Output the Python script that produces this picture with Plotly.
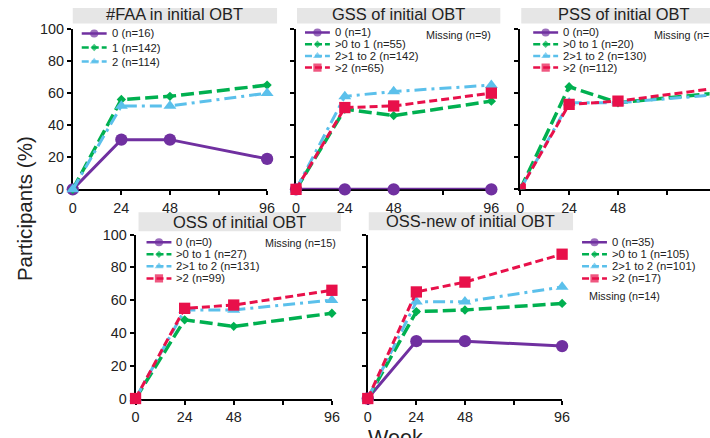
import plotly.graph_objects as go

# ---------------- data ----------------
weeks = [0, 24, 48, 96]
week_ticks = [0, 24, 48, 72, 96]
week_ticktext = ["0", "24", "48", "", "96"]
pct_ticks = [0, 20, 40, 60, 80, 100]

faa_title = "#FAA in initial OBT"
faa_labels = ["0 (n=16)", "1 (n=142)", "2 (n=114)"]
faa_0 = [0, 31, 31, 19]
faa_1 = [0, 56, 58, 65]
faa_2 = [0, 52, 52, 60]

gss_title = "GSS of initial OBT"
gss_labels = ["0 (n=1)", ">0 to 1 (n=55)", "2>1 to 2 (n=142)", ">2 (n=65)"]
gss_missing = "Missing (n=9)"
gss_0 = [0, 0, 0, 0]
gss_1 = [0, 50, 46, 55]
gss_2 = [0, 58, 61, 65]
gss_3 = [0, 51, 52, 60]

pss_title = "PSS of initial OBT"
pss_labels = ["0 (n=0)", ">0 to 1 (n=20)", "2>1 to 2 (n=130)", ">2 (n=112)"]
pss_missing = "Missing (n=10)"
pss_0 = [None, None, None, None]
pss_1 = [0, 64, 54, 60]
pss_2 = [0, 54, 54, 59]
pss_3 = [0, 53, 55, 63]

oss_title = "OSS of initial OBT"
oss_labels = ["0 (n=0)", ">0 to 1 (n=27)", "2>1 to 2 (n=131)", ">2 (n=99)"]
oss_missing = "Missing (n=15)"
oss_0 = [None, None, None, None]
oss_1 = [0, 48, 44, 52]
oss_2 = [0, 54, 54, 60]
oss_3 = [0, 55, 57, 66]

ossn_title = "OSS-new of initial OBT"
ossn_labels = ["0 (n=35)", ">0 to 1 (n=105)", "2>1 to 2 (n=101)", ">2 (n=17)"]
ossn_missing = "Missing (n=14)"
ossn_0 = [0, 35, 35, 32]
ossn_1 = [0, 53, 54, 58]
ossn_2 = [0, 59, 59, 68]
ossn_3 = [0, 65, 71, 88]

y_title = "Participants (%)"
x_title = "Week"

# ---------------- page / picture geometry ----------------
PIC_W, PIC_H = 710, 438                 # size of the photographed picture
CAP_X0, CAP_Y0 = -2.03, -8.95           # page area that ends up in the picture
CAP_W, CAP_H = 719.6, 455.6
W, H = 720, 456                         # figure size (page px)
S = 0.974                               # mean picture/page scale, for font & marker sizes

def page_x(t):
    return CAP_X0 + t * CAP_W / PIC_W

def page_y(t):
    return CAP_Y0 + t * CAP_H / PIC_H

def X(t):
    return page_x(t) / W

def Y(t):
    return 1 - page_y(t) / H

def fs(v):
    return round(v / S, 2)

FONT = "Arial, Liberation Sans, sans-serif"
TXT = "#222222"
STYLES = [
    dict(color="#7030A0", dash="solid", symbol="circle", size=12, lsize=8, width=3),
    dict(color="#00B050", dash="13px,5px", symbol="diamond", size=7, lsize=5.5, width=3.5),
    dict(color="#5BC0EB", dash="12px,5px,3px,5px", symbol="triangle-up", size=11, lsize=7.5, width=3),
    dict(color="#E8104A", dash="8px,4px", symbol="square", size=11, lsize=8, width=3),
]

panels = [
    dict(title=faa_title, labels=faa_labels, series=[faa_0, faa_1, faa_2], missing=None,
         x0=71, x1=266, ytop=29.5, ybot=189.3, xmax=96, ylab=True,
         box=(71, 276, 6, 24), leg_rows=[34, 48, 62], leg_x=80, miss=None),
    dict(title=gss_title, labels=gss_labels, series=[gss_0, gss_1, gss_2, gss_3], missing=gss_missing,
         x0=295, x1=491, ytop=29.5, ybot=189.3, xmax=96, ylab=False,
         box=(296, 500, 6, 24), leg_rows=[33, 44.7, 56.4, 68], leg_x=304, miss=(493, 36, "right")),
    dict(title=pss_title, labels=pss_labels, series=[pss_0, pss_1, pss_2, pss_3], missing=pss_missing,
         x0=520, x1=710, ytop=29.5, ybot=189.3, xmax=93.0, ylab=False,
         box=(521, 726, 6, 24), leg_rows=[33, 44.7, 56.4, 68], leg_x=533, miss=(652, 36, "left")),
    dict(title=oss_title, labels=oss_labels, series=[oss_0, oss_1, oss_2, oss_3], missing=oss_missing,
         x0=134, x1=331, ytop=234.3, ybot=397.7, xmax=96, ylab=True,
         box=(137, 340, 212, 231), leg_rows=[242, 254, 266, 278], leg_x=145, miss=(337, 243, "right")),
    dict(title=ossn_title, labels=ossn_labels, series=[ossn_0, ossn_1, ossn_2, ossn_3], missing=ossn_missing,
         x0=367, x1=562, ytop=234.3, ybot=397.7, xmax=96, ylab=False,
         box=(368, 573, 212, 230), leg_rows=[242, 254, 266, 278], leg_x=582, miss=(587, 296, "left")),
]

fig = go.Figure()
shapes = []
annotations = []
layout_axes = {}

def clamp(v):
    return max(0.0, min(1.0, v))

for i, p in enumerate(panels):
    k = i + 1
    xa = "x" if k == 1 else f"x{k}"
    ya = "y" if k == 1 else f"y{k}"
    styles = STYLES if len(p["series"]) == 4 else STYLES[:3]
    for vals, lab, st in zip(p["series"], p["labels"], styles):
        fig.add_trace(go.Scatter(
            x=weeks, y=vals, name=lab, mode="lines+markers", xaxis=xa, yaxis=ya,
            line=dict(color=st["color"], dash=st["dash"], width=st["width"]),
            marker=dict(symbol=st["symbol"], size=fs(st["size"]), color=st["color"]),
            cliponaxis=p["xmax"] < 96, showlegend=False, connectgaps=False,
        ))
    axis_common = dict(showline=True, linecolor="black", linewidth=2, ticks="outside",
                       ticklen=4, tickwidth=1.5, tickcolor="black", showgrid=False,
                       zeroline=False, layer="below traces",
                       tickfont=dict(family=FONT, size=fs(14), color=TXT))
    layout_axes["xaxis" if k == 1 else f"xaxis{k}"] = dict(
        axis_common, domain=[clamp(X(p["x0"])), clamp(X(p["x1"]))], range=[0, p["xmax"]],
        tickvals=week_ticks, ticktext=week_ticktext, anchor=ya)
    layout_axes["yaxis" if k == 1 else f"yaxis{k}"] = dict(
        axis_common, domain=[clamp(Y(p["ybot"])), clamp(Y(p["ytop"]))], range=[0, 100],
        tickvals=pct_ticks, showticklabels=p["ylab"], anchor=xa)

    bx0, bx1, by0, by1 = p["box"]
    shapes.append(dict(type="rect", xref="paper", yref="paper", x0=clamp(X(bx0)), x1=clamp(X(bx1)),
                       y0=clamp(Y(by1)), y1=clamp(Y(by0)), fillcolor="#E6E6E6",
                       line=dict(width=0), layer="below"))
    annotations.append(dict(text=p["title"], xref="paper", yref="paper", x=X((bx0 + bx1) / 2),
                            y=Y((by0 + by1) / 2), xanchor="center", yanchor="middle",
                            showarrow=False, font=dict(family=FONT, size=fs(16), color=TXT)))
    lx = p["leg_x"]
    for row, lab, st in zip(p["leg_rows"], p["labels"], styles):
        fig.add_trace(go.Scatter(
            x=[lx, lx + 12.5, lx + 25], y=[row, row, row], mode="lines+markers",
            xaxis="x6", yaxis="y6", hoverinfo="skip", showlegend=False,
            line=dict(color=st["color"], dash=st["dash"] if st["dash"] == "solid" else "7px,3px", width=2.5),
            marker=dict(symbol=st["symbol"], size=[0, fs(st["lsize"]), 0], color=st["color"],
                        line=dict(width=0)),
        ))
        annotations.append(dict(text=lab, xref="paper", yref="paper", x=X(lx + 28), y=Y(row),
                                xanchor="left", yanchor="middle", showarrow=False,
                                font=dict(family=FONT, size=fs(11), color=TXT)))
    if p["miss"]:
        mx, my, anc = p["miss"]
        annotations.append(dict(text=p["missing"], xref="paper", yref="paper", x=X(mx), y=Y(my),
                                xanchor=anc, yanchor="middle", showarrow=False,
                                font=dict(family=FONT, size=fs(10.5), color=TXT)))

# overlay axes in picture pixels (for the legend keys)
inv_x = lambda pg: (pg - CAP_X0) * PIC_W / CAP_W
inv_y = lambda pg: (pg - CAP_Y0) * PIC_H / CAP_H
layout_axes["xaxis6"] = dict(domain=[0, 1], range=[inv_x(0), inv_x(W)], visible=False,
                             anchor="y6", fixedrange=True)
layout_axes["yaxis6"] = dict(domain=[0, 1], range=[inv_y(H), inv_y(0)], visible=False,
                             anchor="x6", fixedrange=True)

annotations.append(dict(text=y_title, xref="paper", yref="paper", x=X(22), y=Y(208),
                        xanchor="center", yanchor="middle", textangle=-90, showarrow=False,
                        font=dict(family=FONT, size=fs(20), color=TXT)))
annotations.append(dict(text=x_title, xref="paper", yref="paper", x=X(395), y=Y(437),
                        xanchor="center", yanchor="middle", showarrow=False,
                        font=dict(family=FONT, size=fs(21), color=TXT)))

fig.update_layout(
    width=W, height=H, margin=dict(l=0, r=0, t=0, b=0),
    paper_bgcolor="white", plot_bgcolor="rgba(0,0,0,0)", showlegend=False,
    shapes=shapes, annotations=annotations, **layout_axes,
)

page_css = ("document.documentElement.style.margin='0';document.body.style.margin='0';"
            "document.documentElement.style.overflow='hidden';document.body.style.overflow='hidden';")
fig.write_html("out.html", post_script=page_css, config={"displayModeBar": False})
